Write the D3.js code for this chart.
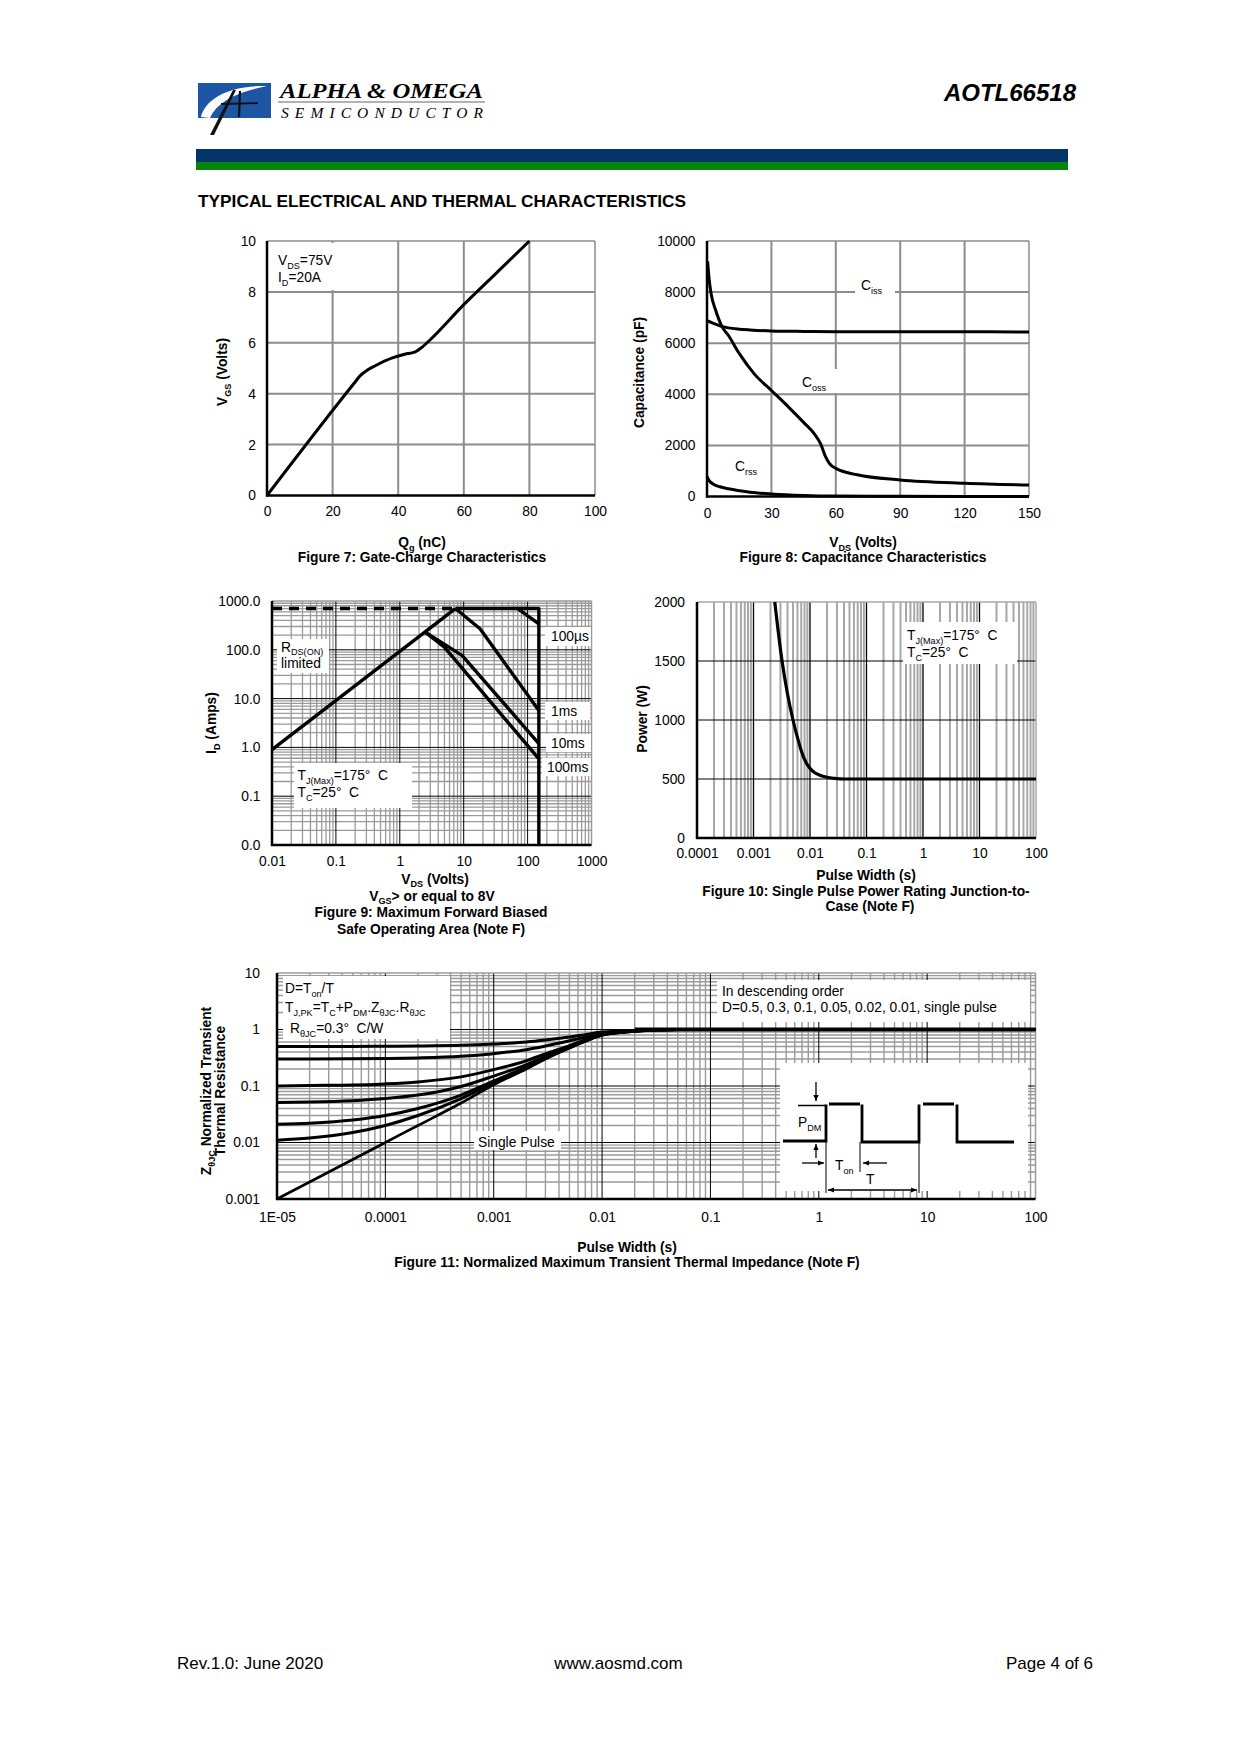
<!DOCTYPE html>
<html><head><meta charset="utf-8">
<script src="https://cdn.jsdelivr.net/npm/d3@7"></script>
<style>
body{margin:0;background:#fff;}
svg text{font-family:"Liberation Sans",Arial,Helvetica,sans-serif;fill:#000;}
</style></head><body>
<svg id="page" width="1240" height="1754" xmlns="http://www.w3.org/2000/svg"></svg>
<script>
// ---------------- DATA ----------------
// Figure 7: Gate charge
const fig7Qg  = [0, 26.5, 28.5, 30.5, 33, 38, 42, 45, 47, 50, 60, 70, 80];
const fig7Vgs = [0, 4.4, 4.72, 4.92, 5.1, 5.4, 5.55, 5.63, 5.8, 6.15, 7.5, 8.75, 10];
const fig7XTicks = [0, 20, 40, 60, 80, 100];
const fig7YTicks = [0, 2, 4, 6, 8, 10];

// Figure 8: Capacitance
const fig8CissV = [0, 3, 6, 10, 15, 20, 30, 45, 60, 90, 120, 150];
const fig8Ciss  = [6880, 6780, 6680, 6600, 6550, 6520, 6480, 6460, 6450, 6450, 6450, 6440];
const fig8CossV = [0.3, 1, 2, 4, 7, 10, 15, 22, 30, 38, 45, 50, 53, 55, 57, 60, 70, 90, 120, 150];
const fig8Coss  = [9200, 8500, 7900, 7300, 6650, 6300, 5600, 4800, 4150, 3500, 2900, 2450, 2050, 1600, 1300, 1100, 850, 650, 520, 450];
const fig8CrssV = [0, 1, 3, 6, 10, 20, 30, 45, 60, 90, 150];
const fig8Crss  = [780, 620, 480, 380, 300, 170, 100, 40, 15, 5, 0];
const fig8XTicks = [0, 30, 60, 90, 120, 150];
const fig8YTicks = [0, 2000, 4000, 6000, 8000, 10000];

// Figure 9: SOA
const fig9RdsV = [0.01, 7.4];
const fig9RdsI = [0.9, 700];
const fig9LimitDashV = [0.01, 7.4];
const fig9LimitDashI = [700, 700];
const fig9DcV = [7.4, 150, 150];
const fig9DcI = [700, 700, 0.01];
const fig9_100usV = [70, 150];
const fig9_100usI = [700, 340];
const fig9_1msV = [7.4, 18, 150];
const fig9_1msI = [700, 270, 5.7];
const fig9_10msV = [2.5, 9.4, 150];
const fig9_10msI = [230, 77, 1.2];
const fig9_100msV = [2.5, 5.1, 150];
const fig9_100msI = [230, 110, 0.58];
const fig9XTicks = [0.01, 0.1, 1, 10, 100, 1000];
const fig9XLabels = ["0.01", "0.1", "1", "10", "100", "1000"];
const fig9YTicks = [0.01, 0.1, 1, 10, 100, 1000];
const fig9YLabels = ["0.0", "0.1", "1.0", "10.0", "100.0", "1000.0"];

// Figure 10: Single pulse power
const fig10T = [0.00238, 0.0032, 0.004, 0.005, 0.006, 0.007, 0.0085, 0.01, 0.012, 0.015, 0.02, 0.03, 0.04, 0.06, 0.1, 1, 10, 100];
const fig10P = [2000, 1500, 1220, 1000, 850, 740, 640, 590, 555, 532, 515, 503, 500, 500, 500, 500, 500, 500];
const fig10XTicks = [0.0001, 0.001, 0.01, 0.1, 1, 10, 100];
const fig10XLabels = ["0.0001", "0.001", "0.01", "0.1", "1", "10", "100"];
const fig10YTicks = [0, 500, 1000, 1500, 2000];

// Figure 11: Transient thermal impedance
const fig11T = [1e-5, 2e-5, 5e-5, 1e-4, 2e-4, 5e-4, 1e-3, 2e-3, 3e-3, 5e-3, 7e-3, 1e-2, 2e-2, 3e-2, 5e-2, 0.1, 1, 10, 100];
const fig11D05   = [0.50, 0.50, 0.50, 0.505, 0.51, 0.525, 0.553, 0.60, 0.65, 0.735, 0.81, 0.90, 0.965, 0.99, 1, 1, 1, 1, 1];
const fig11D03   = [0.30, 0.30, 0.303, 0.307, 0.314, 0.335, 0.374, 0.44, 0.51, 0.63, 0.73, 0.86, 0.95, 0.986, 1, 1, 1, 1, 1];
const fig11D01   = [0.10, 0.102, 0.104, 0.109, 0.118, 0.145, 0.195, 0.28, 0.37, 0.52, 0.66, 0.82, 0.937, 0.982, 1, 1, 1, 1, 1];
const fig11D005  = [0.051, 0.052, 0.055, 0.06, 0.069, 0.098, 0.15, 0.24, 0.335, 0.50, 0.64, 0.81, 0.934, 0.981, 1, 1, 1, 1, 1];
const fig11D002  = [0.021, 0.022, 0.025, 0.03, 0.04, 0.069, 0.123, 0.216, 0.314, 0.48, 0.63, 0.80, 0.93, 0.98, 1, 1, 1, 1, 1];
const fig11D001  = [0.011, 0.012, 0.015, 0.02, 0.03, 0.06, 0.114, 0.208, 0.307, 0.475, 0.625, 0.80, 0.93, 0.98, 1, 1, 1, 1, 1];
const fig11Single= [0.001, 0.002, 0.005, 0.01, 0.02, 0.05, 0.105, 0.2, 0.3, 0.47, 0.62, 0.80, 0.93, 0.98, 1, 1, 1, 1, 1];
const fig11XTicks = [1e-5, 1e-4, 1e-3, 1e-2, 0.1, 1, 10, 100];
const fig11XLabels = ["1E-05", "0.0001", "0.001", "0.01", "0.1", "1", "10", "100"];
const fig11YTicks = [0.001, 0.01, 0.1, 1, 10];
const fig11YLabels = ["0.001", "0.01", "0.1", "1", "10"];

// ---------------- HELPERS ----------------
const svg = d3.select('#page');
const FS = 13.8;
const NB = '\u00a0';

function rich(g, x, y, parts, opts = {}) {
  const size = opts.size || FS;
  const sh = opts.shift || 3.5;
  const t = g.append('text').attr('x', x).attr('y', y).attr('font-size', size)
    .attr('text-anchor', opts.anchor || 'start')
    .attr('font-weight', opts.weight || 'normal');
  if (opts.transform) t.attr('transform', opts.transform);
  let shift = 0;
  parts.forEach(p => {
    const s = Array.isArray(p) ? p[0] : p;
    const kind = Array.isArray(p) ? p[1] : null;
    const ts = t.append('tspan').text(s);
    if (kind === 'sub') { ts.attr('font-size', size * 0.66).attr('dy', sh - shift); shift = sh; }
    else { if (shift) ts.attr('dy', -shift); shift = 0; }
  });
  return t;
}
function whiteBox(g, x, y, w, h) {
  g.append('rect').attr('x', x).attr('y', y).attr('width', w).attr('height', h).attr('fill', '#fff');
}
function logMinor(lo, hi) {
  const out = [];
  const e0 = Math.round(Math.log10(lo)), e1 = Math.round(Math.log10(hi));
  for (let e = e0; e < e1; e++) for (let k = 2; k <= 9; k++) out.push(k * Math.pow(10, e));
  return out;
}
function vGrid(g, x, vals, y0, y1, color, w) {
  g.append('g').selectAll('line').data(vals).join('line')
    .attr('x1', d => x(d)).attr('x2', d => x(d)).attr('y1', y0).attr('y2', y1)
    .attr('stroke', color).attr('stroke-width', w);
}
function hGrid(g, y, vals, x0, x1, color, w) {
  g.append('g').selectAll('line').data(vals).join('line')
    .attr('y1', d => y(d)).attr('y2', d => y(d)).attr('x1', x0).attr('x2', x1)
    .attr('stroke', color).attr('stroke-width', w);
}
function axisLabels(g, axis, tx, ty) {
  const a = g.append('g').attr('transform', `translate(${tx},${ty})`).call(axis);
  a.select('.domain').remove();
  a.selectAll('line').remove();
  a.attr('font-family', null).attr('font-size', null);
  a.selectAll('text').attr('font-size', FS).attr('fill', '#000');
  return a;
}
function frame(g, L, R, T, B, topColor) {
  g.append('line').attr('x1', L).attr('x2', R).attr('y1', T).attr('y2', T).attr('stroke', topColor).attr('stroke-width', 1.5);
  g.append('line').attr('x1', R).attr('x2', R).attr('y1', T).attr('y2', B).attr('stroke', topColor).attr('stroke-width', 1.5);
  g.append('line').attr('x1', L).attr('x2', L).attr('y1', T).attr('y2', B + 1).attr('stroke', '#000').attr('stroke-width', 2.5);
  g.append('line').attr('x1', L - 1).attr('x2', R).attr('y1', B).attr('y2', B).attr('stroke', '#000').attr('stroke-width', 2.5);
}
function drawLine(g, xs, ys, x, y, w, curve, dash) {
  const pts = xs.map((v, i) => [v, ys[i]]);
  const p = g.append('path').datum(pts)
    .attr('d', d3.line().x(d => x(d[0])).y(d => y(d[1])).curve(curve || d3.curveLinear))
    .attr('fill', 'none').attr('stroke', '#000').attr('stroke-width', w)
    .attr('stroke-linejoin', 'round').attr('stroke-linecap', 'butt');
  if (dash) p.attr('stroke-dasharray', dash);
  return p;
}
function caption(g, cx, y, parts) {
  return rich(g, cx, y, parts, { anchor: 'middle', weight: 'bold', size: FS });
}

// ---------------- HEADER ----------------
const hdr = svg.append('g');
hdr.append('rect').attr('x', 198).attr('y', 83).attr('width', 73).attr('height', 35).attr('fill', '#1d56a5');
hdr.append('path').attr('d', 'M201,117 C205,99 229,85 267,86 C237,92 217,102 210,118 Z').attr('fill', '#fff');
hdr.append('path').attr('d', 'M210,135 L233,90 L236,90 L214,135 Z').attr('fill', '#111');
hdr.append('line').attr('x1', 240).attr('y1', 91).attr('x2', 239).attr('y2', 117).attr('stroke', '#111').attr('stroke-width', 2.2);
hdr.append('line').attr('x1', 221).attr('y1', 104).attr('x2', 258).attr('y2', 103).attr('stroke', '#111').attr('stroke-width', 1.8);
hdr.append('text').attr('x', 280).attr('y', 98).attr('font-size', 20).attr('font-weight', 'bold').attr('font-style', 'italic')
  .style('font-family', '"Liberation Serif","Times New Roman",serif').attr('fill', '#1a1a1a')
  .attr('textLength', 203).attr('lengthAdjust', 'spacingAndGlyphs').text('ALPHA & OMEGA');
hdr.append('line').attr('x1', 278).attr('x2', 485).attr('y1', 102).attr('y2', 102).attr('stroke', '#666').attr('stroke-width', 1);
hdr.append('text').attr('x', 281).attr('y', 117.5).attr('font-size', 15.5).attr('font-style', 'italic')
  .style('font-family', '"Liberation Serif","Times New Roman",serif').attr('fill', '#1a1a1a')
  .attr('textLength', 202).attr('lengthAdjust', 'spacing').text('SEMICONDUCTOR');
hdr.append('text').attr('x', 1076).attr('y', 101).attr('text-anchor', 'end').attr('font-size', 24)
  .attr('font-weight', 'bold').attr('font-style', 'italic').text('AOTL66518');
hdr.append('rect').attr('x', 196).attr('y', 149).attr('width', 872).attr('height', 13).attr('fill', '#03356b');
hdr.append('rect').attr('x', 196).attr('y', 162).attr('width', 872).attr('height', 8).attr('fill', '#07850b');
hdr.append('text').attr('x', 198).attr('y', 207).attr('font-size', 17.3).attr('font-weight', 'bold')
  .text('TYPICAL ELECTRICAL AND THERMAL CHARACTERISTICS');

// ---------------- FIGURE 7 ----------------
(function () {
  const L = 267, R = 595, T = 241, B = 495.5;
  const g = svg.append('g');
  const x = d3.scaleLinear().domain([0, 100]).range([L, R]);
  const y = d3.scaleLinear().domain([0, 10]).range([B, T]);
  vGrid(g, x, fig7XTicks.slice(1, -1), T, B, '#8c8c8c', 2);
  hGrid(g, y, fig7YTicks.slice(1, -1), L, R, '#8c8c8c', 2);
  frame(g, L, R, T, B, '#8c8c8c');
  whiteBox(g, 272, 243, 62, 47);
  rich(g, 278, 265, ['V', ['DS', 'sub'], '=75V']);
  rich(g, 278, 282, ['I', ['D', 'sub'], '=20A']);
  drawLine(g, fig7Qg, fig7Vgs, x, y, 3, d3.curveMonotoneX);
  axisLabels(g, d3.axisBottom(x).tickValues(fig7XTicks).tickSize(0).tickPadding(10.5).tickFormat(d3.format('d')), 0, B);
  axisLabels(g, d3.axisLeft(y).tickValues(fig7YTicks).tickSize(0).tickPadding(11).tickFormat(d3.format('d')), L, 0);
  rich(g, 0, 0, ['V', ['GS', 'sub'], ' (Volts)'], { anchor: 'middle', weight: 'bold', transform: 'translate(227,372) rotate(-90)' });
  caption(g, 422, 547, ['Q', ['g', 'sub'], ' (nC)']);
  caption(g, 422, 561.5, ['Figure 7: Gate-Charge Characteristics']);
})();

// ---------------- FIGURE 8 ----------------
(function () {
  const L = 707, R = 1029, T = 241, B = 496.5;
  const g = svg.append('g');
  const x = d3.scaleLinear().domain([0, 150]).range([L, R]);
  const y = d3.scaleLinear().domain([0, 10000]).range([B, T]);
  vGrid(g, x, fig8XTicks.slice(1, -1), T, B, '#8c8c8c', 2);
  hGrid(g, y, fig8YTicks.slice(1, -1), L, R, '#8c8c8c', 2);
  frame(g, L, R, T, B, '#8c8c8c');
  whiteBox(g, 855, 280, 40, 20);
  whiteBox(g, 796, 369, 44, 24);
  drawLine(g, fig8CissV, fig8Ciss, x, y, 3, d3.curveMonotoneX);
  drawLine(g, fig8CossV, fig8Coss, x, y, 3, d3.curveMonotoneX);
  drawLine(g, fig8CrssV, fig8Crss, x, y, 3, d3.curveMonotoneX);
  rich(g, 861, 290, ['C', ['iss', 'sub']]);
  rich(g, 802, 387, ['C', ['oss', 'sub']]);
  rich(g, 735, 471, ['C', ['rss', 'sub']]);
  axisLabels(g, d3.axisBottom(x).tickValues(fig8XTicks).tickSize(0).tickPadding(11.5).tickFormat(d3.format('d')), 0, B);
  axisLabels(g, d3.axisLeft(y).tickValues(fig8YTicks).tickSize(0).tickPadding(11.5).tickFormat(d3.format('d')), L, 0);
  rich(g, 0, 0, ['Capacitance (pF)'], { anchor: 'middle', weight: 'bold', transform: 'translate(643.5,372.5) rotate(-90)' });
  caption(g, 863, 547, ['V', ['DS', 'sub'], ' (Volts)']);
  caption(g, 863, 562, ['Figure 8: Capacitance Characteristics']);
})();

// ---------------- FIGURE 9 ----------------
(function () {
  const L = 272, R = 591.5, T = 601, B = 845;
  const g = svg.append('g');
  const x = d3.scaleLog().domain([0.01, 1000]).range([L, R]);
  const y = d3.scaleLog().domain([0.01, 1000]).range([B, T]);
  vGrid(g, x, logMinor(0.01, 1000), T, B, '#9a9a9a', 1.3);
  hGrid(g, y, logMinor(0.01, 1000), L, R, '#9a9a9a', 1.3);
  vGrid(g, x, fig9XTicks.slice(1, -1), T, B, '#000', 1);
  hGrid(g, y, fig9YTicks.slice(1, -1), L, R, '#000', 1);
  frame(g, L, R, T, B, '#9a9a9a');
  whiteBox(g, 277, 639, 52, 34);
  whiteBox(g, 294, 763, 118, 45);
  whiteBox(g, 545, 627, 46, 19);
  whiteBox(g, 545, 702, 45, 18);
  whiteBox(g, 546, 734, 45, 18);
  whiteBox(g, 542, 758, 49, 18);
  const W = 3.4;
  drawLine(g, fig9LimitDashV, fig9LimitDashI, x, y, W, null, '10,7');
  drawLine(g, fig9RdsV, fig9RdsI, x, y, W);
  drawLine(g, fig9DcV, fig9DcI, x, y, W);
  drawLine(g, fig9_100usV, fig9_100usI, x, y, W);
  drawLine(g, fig9_1msV, fig9_1msI, x, y, W);
  drawLine(g, fig9_10msV, fig9_10msI, x, y, W);
  drawLine(g, fig9_100msV, fig9_100msI, x, y, W);
  rich(g, 281, 651.5, ['R', ['DS(ON)', 'sub']], { size: 13.8, shift: 3 });
  rich(g, 281, 667.5, ['limited'], { size: 13.8 });
  rich(g, 297.5, 780, ['T', ['J(Max)', 'sub'], '=175°' + NB + NB + 'C']);
  rich(g, 297.5, 797, ['T', ['C', 'sub'], '=25°' + NB + NB + 'C']);
  rich(g, 551, 640.5, ['100µs']);
  rich(g, 551, 715.5, ['1ms']);
  rich(g, 551, 747.5, ['10ms']);
  rich(g, 547, 771.5, ['100ms']);
  axisLabels(g, d3.axisBottom(x).tickValues(fig9XTicks).tickSize(0).tickPadding(11).tickFormat((d, i) => fig9XLabels[i]), 0, B);
  axisLabels(g, d3.axisLeft(y).tickValues(fig9YTicks).tickSize(0).tickPadding(11.5).tickFormat((d, i) => fig9YLabels[i]), L, 0);
  rich(g, 0, 0, ['I', ['D', 'sub'], ' (Amps)'], { anchor: 'middle', weight: 'bold', transform: 'translate(216,723) rotate(-90)' });
  caption(g, 435, 883.5, ['V', ['DS', 'sub'], ' (Volts)']);
  caption(g, 432, 900.5, ['V', ['GS', 'sub'], '> or equal to 8V']);
  caption(g, 431, 917, ['Figure 9: Maximum Forward Biased']);
  caption(g, 431, 933.5, ['Safe Operating Area (Note F)']);
})();

// ---------------- FIGURE 10 ----------------
(function () {
  const L = 697, R = 1036, T = 602, B = 838;
  const g = svg.append('g');
  const x = d3.scaleLog().domain([0.0001, 100]).range([L, R]);
  const y = d3.scaleLinear().domain([0, 2000]).range([B, T]);
  vGrid(g, x, logMinor(0.0001, 100), T, B, '#a8a8a8', 2);
  vGrid(g, x, fig10XTicks.slice(1, -1), T, B, '#000', 1.3);
  hGrid(g, y, fig10YTicks.slice(1, -1), L, R, '#000', 1);
  frame(g, L, R, T, B, '#a8a8a8');
  whiteBox(g, 903, 622, 114, 42);
  drawLine(g, fig10T, fig10P, x, y, 3.2, d3.curveMonotoneX);
  rich(g, 907, 640, ['T', ['J(Max)', 'sub'], '=175°' + NB + NB + 'C']);
  rich(g, 907, 657, ['T', ['C', 'sub'], '=25°' + NB + NB + 'C']);
  axisLabels(g, d3.axisBottom(x).tickValues(fig10XTicks).tickSize(0).tickPadding(10).tickFormat((d, i) => fig10XLabels[i]), 0, B);
  axisLabels(g, d3.axisLeft(y).tickValues(fig10YTicks).tickSize(0).tickPadding(12).tickFormat(d3.format('d')), L, 0);
  rich(g, 0, 0, ['Power (W)'], { anchor: 'middle', weight: 'bold', transform: 'translate(646.5,719) rotate(-90)' });
  caption(g, 866, 880, ['Pulse Width (s)']);
  caption(g, 866, 896, ['Figure 10: Single Pulse Power Rating Junction-to-']);
  caption(g, 870, 911, ['Case (Note F)']);
})();

// ---------------- FIGURE 11 ----------------
(function () {
  const L = 277, R = 1035.5, T = 973, B = 1199;
  const g = svg.append('g');
  const x = d3.scaleLog().domain([1e-5, 100]).range([L, R]);
  const y = d3.scaleLog().domain([0.001, 10]).range([B, T]);
  vGrid(g, x, logMinor(1e-5, 100), T, B, '#9a9a9a', 1.4);
  hGrid(g, y, logMinor(0.001, 10), L, R, '#9a9a9a', 1.4);
  vGrid(g, x, fig11XTicks.slice(1, -1), T, B, '#000', 1);
  hGrid(g, y, fig11YTicks.slice(1, -1), L, R, '#000', 1);
  frame(g, L, R, T, B, '#9a9a9a');
  whiteBox(g, 283, 976, 167, 63);
  whiteBox(g, 717, 980, 313, 42);
  whiteBox(g, 474, 1131, 87, 19);
  whiteBox(g, 780, 1063, 248, 128);
  const series = [fig11D05, fig11D03, fig11D01, fig11D005, fig11D002, fig11D001];
  series.forEach(s => drawLine(g, fig11T, s, x, y, 3, d3.curveMonotoneX));
  drawLine(g, fig11T, fig11Single, x, y, 2.6, d3.curveMonotoneX);
  drawLine(g, [0.02, 100], [1, 1], x, y, 4);
  rich(g, 285, 993, ['D=T', ['on', 'sub'], '/T']);
  rich(g, 285, 1012, ['T', ['J,PK', 'sub'], '=T', ['C', 'sub'], '+P', ['DM', 'sub'], '.Z', ['θJC', 'sub'], '.R', ['θJC', 'sub']]);
  rich(g, 290, 1033, ['R', ['θJC', 'sub'], '=0.3°' + NB + NB + 'C/W']);
  rich(g, 722, 996, ['In descending order']);
  rich(g, 722, 1012, ['D=0.5, 0.3, 0.1, 0.05, 0.02, 0.01, single pulse']);
  rich(g, 478, 1147, ['Single Pulse']);
  // pulse-train inset (illustration)
  const ins = g.append('g');
  const thin = (x1, y1, x2, y2, w) => ins.append('line').attr('x1', x1).attr('y1', y1).attr('x2', x2).attr('y2', y2).attr('stroke', '#000').attr('stroke-width', w || 1);
  ins.append('path').attr('d', 'M783,1141 H826 V1104.5 M829,1104 H860 M862,1104.5 V1142 H919 V1104.5 M923,1104 H954 M957,1104.5 V1142 H1014')
    .attr('fill', 'none').attr('stroke', '#000').attr('stroke-width', 2.8);
  thin(798, 1105.5, 826, 1105.5, 1.5);
  thin(826, 1142, 826, 1193, 1);
  thin(860, 1142, 860, 1172, 1);
  thin(919, 1142, 919, 1193, 1);
  const arrow = (x1, y1, x2, y2) => {
    thin(x1, y1, x2, y2, 1.3);
    const a = Math.atan2(y2 - y1, x2 - x1), s = 6, h = 2.6;
    const p1 = [x2 - s * Math.cos(a) + h * Math.sin(a), y2 - s * Math.sin(a) - h * Math.cos(a)];
    const p2 = [x2 - s * Math.cos(a) - h * Math.sin(a), y2 - s * Math.sin(a) + h * Math.cos(a)];
    ins.append('path').attr('d', `M${x2},${y2} L${p1[0]},${p1[1]} L${p2[0]},${p2[1]} Z`).attr('fill', '#000');
  };
  arrow(816, 1082, 816, 1101);
  arrow(816, 1158, 816, 1144);
  arrow(802, 1163, 824, 1163);
  arrow(887, 1163, 863, 1163);
  arrow(872, 1190, 828, 1190);
  arrow(872, 1190, 917, 1190);
  rich(ins, 798, 1127, ['P', ['DM', 'sub']]);
  rich(ins, 835, 1170, ['T', ['on', 'sub']]);
  rich(ins, 866, 1184, ['T']);
  axisLabels(g, d3.axisBottom(x).tickValues(fig11XTicks).tickSize(0).tickPadding(13).tickFormat((d, i) => fig11XLabels[i]), 0, B);
  axisLabels(g, d3.axisLeft(y).tickValues(fig11YTicks).tickSize(0).tickPadding(17).tickFormat((d, i) => fig11YLabels[i]), L, 0);
  rich(g, 0, 0, ['Z', ['θJC', 'sub'], ' Normalized Transient'], { anchor: 'middle', weight: 'bold', transform: 'translate(211,1091) rotate(-90)' });
  rich(g, 0, 0, ['Thermal Resistance'], { anchor: 'middle', weight: 'bold', transform: 'translate(225,1091) rotate(-90)' });
  caption(g, 627, 1251.5, ['Pulse Width (s)']);
  caption(g, 627, 1267, ['Figure 11: Normalized Maximum Transient Thermal Impedance (Note F)']);
})();

// ---------------- FOOTER ----------------
const ft = svg.append('g');
ft.append('text').attr('x', 177).attr('y', 1669).attr('font-size', 17).text('Rev.1.0: June 2020');
ft.append('text').attr('x', 618.5).attr('y', 1669).attr('font-size', 17).attr('text-anchor', 'middle').text('www.aosmd.com');
ft.append('text').attr('x', 1093).attr('y', 1669).attr('font-size', 17).attr('text-anchor', 'end').text('Page 4 of 6');
</script>
</body></html>
